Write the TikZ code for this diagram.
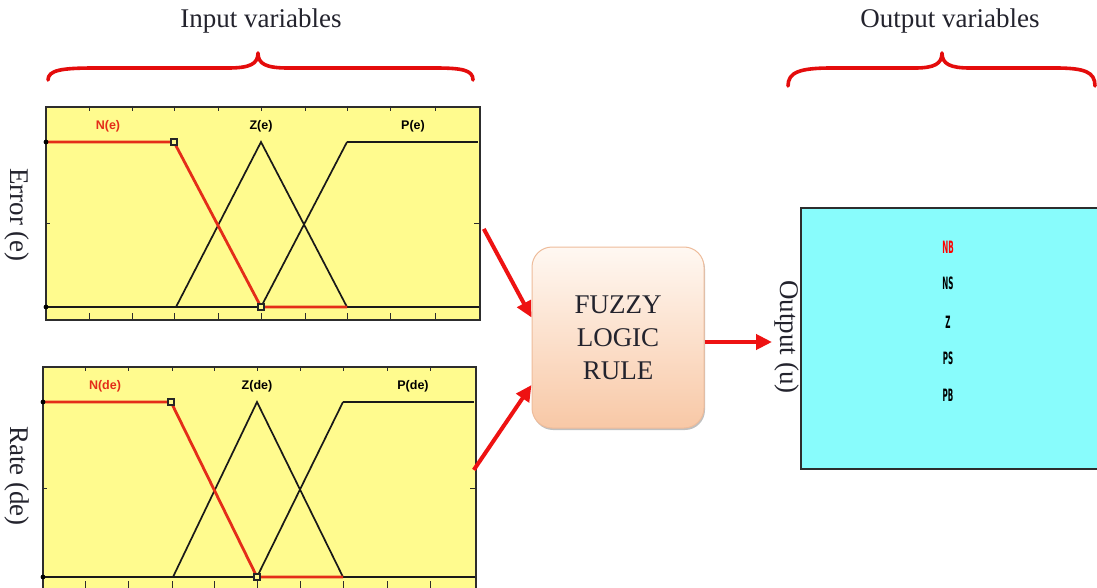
\documentclass[tikz,border=0pt]{standalone}
\usepackage{fontspec}
\setmainfont{Liberation Serif}
\newfontfamily\mflabel{Liberation Sans}
\newfontfamily\outfont{DejaVu Sans}
\usetikzlibrary{arrows.meta,shadows}

\definecolor{mfyellow}{RGB}{255,251,142}
\definecolor{mfred}{RGB}{228,45,25}
\definecolor{outcyan}{RGB}{136,252,252}
\definecolor{bracered}{RGB}{228,12,12}
\definecolor{arrowred}{RGB}{238,18,18}
\definecolor{rulepeach}{RGB}{248,200,166}
\definecolor{ruletop}{RGB}{255,248,242}
\definecolor{ruleedge}{RGB}{238,188,155}
\definecolor{framegray}{RGB}{45,45,45}
\definecolor{inktext}{RGB}{35,35,45}

\begin{document}
\begin{tikzpicture}[x=1pt,y=-1pt,
  title/.style={font=\fontsize{27}{30}\selectfont, text=inktext, inner sep=0pt},
  sidelbl/.style={font=\fontsize{27}{30}\selectfont, text=inktext, rotate=-90, inner sep=0pt},
  panel/.style={draw=framegray, line width=1.8pt, fill=mfyellow, inner sep=0pt, anchor=north west},
  mfname/.style={font=\mflabel\bfseries\fontsize{12.5}{13}\selectfont, inner sep=0pt},
  outname/.style={font=\outfont\bfseries\fontsize{17}{18}\selectfont, xscale=0.42, inner sep=0pt},
  bracepath/.style={draw=bracered, line width=3.6pt, line cap=round, line join=round},
  tick/.style={draw=framegray, line width=1pt},
  zeroline/.style={draw=black!90, line width=2.3pt},
  oneline/.style={draw=black!90, line width=2.6pt},
  slope/.style={draw=black!90, line width=1.7pt},
  redmf/.style={draw=mfred, line width=2.8pt},
  knot/.style={draw=black!85, line width=1.3pt, fill=mfyellow},
  rulebox/.style={rounded corners=20pt, draw=ruleedge, line width=1pt,
    top color=ruletop, bottom color=rulepeach, align=center, text=inktext,
    font=\fontsize{27}{33}\selectfont,
    drop shadow={shadow xshift=1pt, shadow yshift=-2pt, opacity=0.35, fill=black!70}},
  outbox/.style={draw=framegray, line width=1.8pt, fill=outcyan, inner sep=0pt, anchor=north west},
  arr/.style={draw=arrowred, line width=4pt, -{Triangle[length=16pt,width=15pt]}}
]
\useasboundingbox (0,0) rectangle (1097,588);
\clip (0,0) rectangle (1097,588);
\fill[white] (0,0) rectangle (1097,588);

% ---- headings and braces ----
\node[title] (inhead) at (261,21) {Input variables};
\node[title] (outhead) at (950,21) {Output variables};

\draw[bracepath] (48,80) .. controls (48,70) and (62,68) .. (95,68)
  -- (228,68) .. controls (250,68) and (258,64) .. (258,53)
  .. controls (258,64) and (266,68) .. (288,68)
  -- (435,68) .. controls (462,68) and (473,70) .. (473,80);
\draw[bracepath] (788,86) .. controls (788,72) and (800,68) .. (832,68)
  -- (915,68) .. controls (934,68) and (942,64) .. (942,53)
  .. controls (942,64) and (950,68) .. (970,68)
  -- (1055,68) .. controls (1085,68) and (1095,72) .. (1095,86);

% ---- error membership panel ----
\node[panel, minimum width=434pt, minimum height=213pt] (err) at (45,106) {};
\foreach \x in {89,132,174,218,261,305,347,390,435} {
  \draw[tick] (\x,106) -- ++(0,5);
  \draw[tick] (\x,319) -- ++(0,-6);
}
\draw[tick] (45,223) -- ++(5,0);
\draw[tick] (479,223) -- ++(-5,0);
\draw[zeroline] (46,307) -- (479,307);
\draw[slope] (176,307) -- (261,142) -- (347,307);
\draw[slope] (261,307) -- (347,142);
\draw[oneline] (347,142) -- (478,142);
\draw[redmf] (46,142) -- (174,142) -- (261,307) -- (347,307);
\fill[black] (46,142) circle (2.4pt) (46,307) circle (2.4pt);
\draw[knot] (171,139) rectangle ++(6,6);
\draw[knot] (258,304) rectangle ++(6,6);
\node[mfname, text=mfred] (ne) at (108,126) {N(e)};
\node[mfname] (ze) at (261,126) {Z(e)};
\node[mfname] (pe) at (413,126) {P(e)};

% ---- rate membership panel ----
\node[panel, minimum width=433pt, minimum height=228pt] (rate) at (42,366) {};
\foreach \x in {85,128,172,214,257,300,343,387,430} {
  \draw[tick] (\x,366) -- ++(0,5);
  \draw[tick] (\x,588) -- ++(0,-7);
}
\draw[tick] (42,488) -- ++(5,0);
\draw[tick] (475,488) -- ++(-5,0);
\draw[zeroline] (43,577) -- (475,577);
\draw[slope] (173,577) -- (257,402) -- (343,577);
\draw[slope] (257,577) -- (343,402);
\draw[oneline] (343,402) -- (474,402);
\draw[redmf] (43,402) -- (171,402) -- (257,577) -- (343,577);
\fill[black] (43,402) circle (2.4pt) (43,577) circle (2.4pt);
\draw[knot] (168,399) rectangle ++(6,6);
\draw[knot] (254,574) rectangle ++(6,6);
\node[mfname, text=mfred] (nde) at (105,386) {N(de)};
\node[mfname] (zde) at (257,386) {Z(de)};
\node[mfname] (pde) at (413,386) {P(de)};

% ---- side captions ----
\node[sidelbl] (errlbl) at (17,215) {Error (e)};
\node[sidelbl] (ratelbl) at (17,476) {Rate (de)};

% ---- rule block ----
\node[rulebox, minimum width=172pt, minimum height=181pt] (fz) at (618,337.5) {FUZZY\\LOGIC\\RULE};

% ---- output panel ----
\node[outbox, minimum width=310pt, minimum height=261pt] (out) at (800,207) {};
\node[outname, text=red] (nb) at (948,247) {NB};
\node[outname] (ns) at (948,283) {NS};
\node[outname] (zo) at (948,322) {Z};
\node[outname] (ps) at (948,358) {PS};
\node[outname] (pb) at (948,395) {PB};
\node[sidelbl] (outlbl) at (787,337) {Output (u)};
\coordinate (uin) at (772,342);

% ---- signal flow ----
\draw[arr] ([xshift=3pt,yshift=-15.5pt]err.east) -- ([yshift=20pt]fz.west);
\draw[arr] ([xshift=-3pt,yshift=11pt]rate.east) -- ([yshift=-47.5pt]fz.west);
\draw[arr] ([yshift=-4.5pt]fz.east) -- (uin);
\end{tikzpicture}
\end{document}
